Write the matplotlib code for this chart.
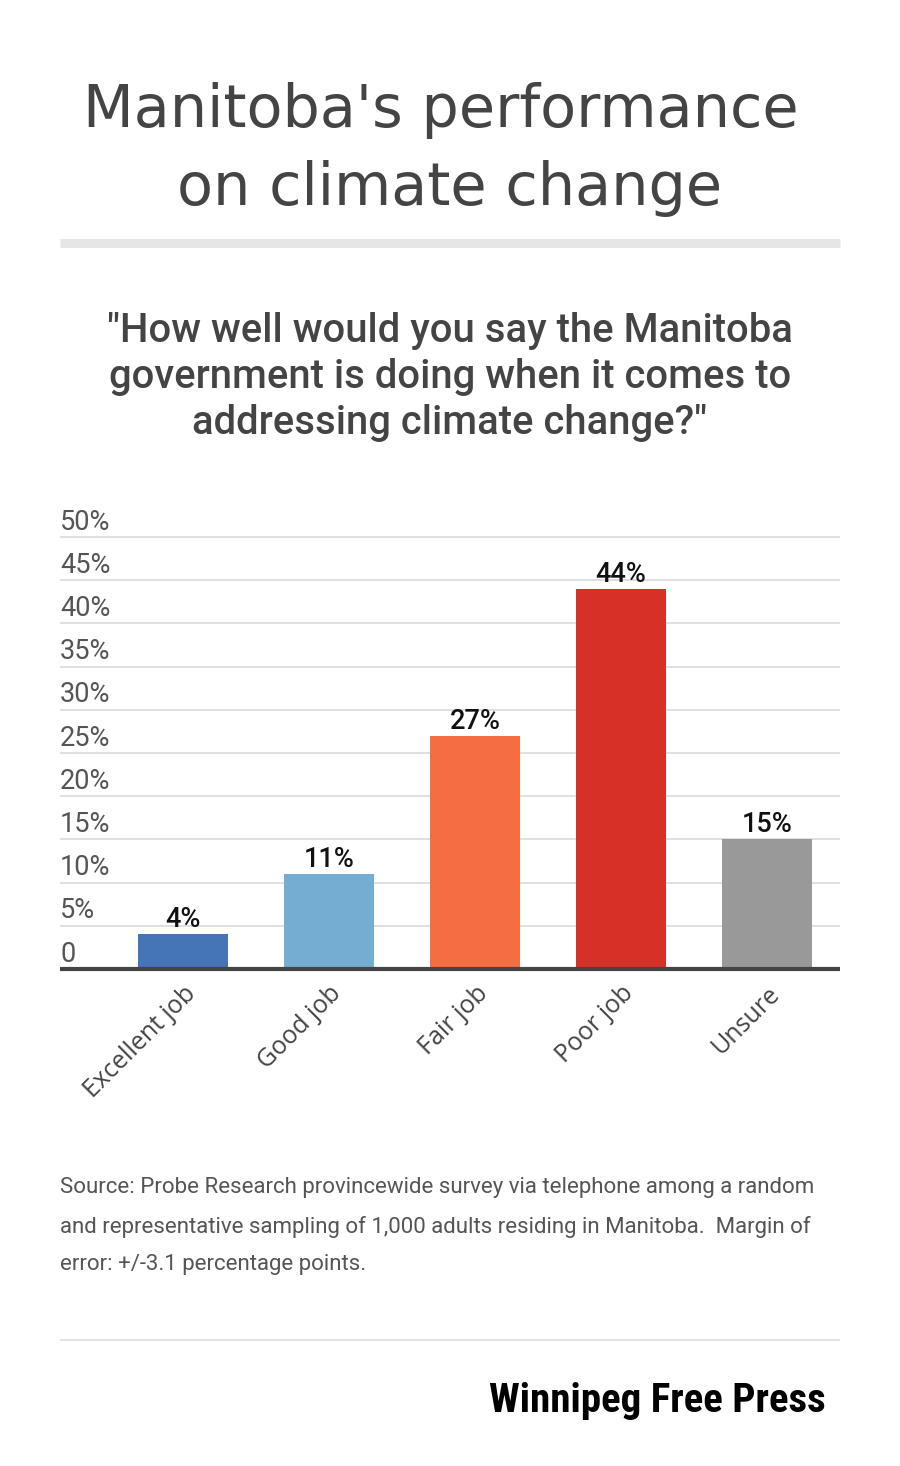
import matplotlib.pyplot as plt
from matplotlib.lines import Line2D
import matplotlib.transforms as mtransforms

# survey results (percent)
categories = ['Excellent job', 'Good job', 'Fair job', 'Poor job', 'Unsure']
values = [4, 11, 27, 44, 15]
bar_colors = ['#4575b4', '#74add1', '#f46d43', '#d73027', '#999999']
y_ticks = [0, 5, 10, 15, 20, 25, 30, 35, 40, 45, 50]
y_tick_labels = ['0', '5%', '10%', '15%', '20%', '25%', '30%', '35%', '40%', '45%', '50%']

W, H = 900, 1466
fig = plt.figure(figsize=(W / 100, H / 100), dpi=100)
fig.patch.set_facecolor('white')


def fx(px):
    return px / W


def fy(py):
    return 1 - py / H


# title + subtitle
fig.text(0.5, fy(149.5), "Manitoba's performance \non climate change", ha='center', va='center',
         fontsize=42.4, color='#444444', family='DejaVu Sans', linespacing=1.46)
fig.add_artist(Line2D([fx(60), fx(840)], [fy(242.5), fy(242.5)], color='#e6e6e6', lw=6.5,
                      solid_capstyle='butt'))
fig.text(0.5, fy(377), '"How well would you say the Manitoba\ngovernment is doing when it comes to\naddressing climate change?"',
         ha='center', va='center', fontsize=28.8, color='#444444', family='Roboto', weight='medium',
         linespacing=1.28)

# chart area
top_val = 50.6
px_per_unit = (969 - 537) / 50
ax_top = 969 - top_val * px_per_unit
ax = fig.add_axes([fx(60), fy(969), fx(840) - fx(60), (969 - ax_top) / H])
x = list(range(len(categories)))
ax.bar(x, values, width=0.616, color=bar_colors, zorder=3)
ax.set_xlim(-0.842, 4.5)
ax.set_ylim(0, top_val)

for s in ['top', 'right', 'left']:
    ax.spines[s].set_visible(False)
ax.spines['bottom'].set_color('#444444')
ax.spines['bottom'].set_linewidth(3)
ax.spines['bottom'].set_capstyle('butt')
ax.spines['bottom'].set_zorder(4)
ax.set_yticks(y_ticks)
ax.set_yticklabels([])
ax.tick_params(axis='y', length=0)
ax.yaxis.grid(True, color='#dddddd', lw=1.3, zorder=0)
ax.set_axisbelow(True)

trans = mtransforms.blended_transform_factory(ax.transAxes, ax.transData)
for t, lab in zip(y_ticks, y_tick_labels):
    ax.text(0.0, t + 0.85, lab, transform=trans, ha='left', va='baseline', fontsize=19.5,
            color='#555555', family='Roboto')

for xi, v in zip(x, values):
    ax.annotate(f'{v}%', (xi, v), xytext=(0, 5), textcoords='offset points', ha='center',
                va='baseline', fontsize=19.5, color='#111111', family='Roboto', weight='medium')

ax.set_xticks(x)
ax.set_xticklabels(categories, rotation=45, ha='right', va='center', rotation_mode='anchor',
                   fontsize=18, color='#444444', family='Open Sans')
ax.tick_params(axis='x', length=0, pad=15)
for lab in ax.get_xticklabels():
    lab.set_transform(lab.get_transform() + mtransforms.ScaledTranslation(9 / 100, 0, fig.dpi_scale_trans))

# source note
source = ('Source: Probe Research provincewide survey via telephone among a random\n'
          'and representative sampling of 1,000 adults residing in Manitoba.  Margin of\n'
          'error: +/-3.1 percentage points.')
fig.text(fx(60), fy(1226), source, ha='left', va='center', fontsize=16, color='#555555',
         family='Roboto', linespacing=2.01)

fig.add_artist(Line2D([fx(60), fx(840)], [fy(1340), fy(1340)], color='#dddddd', lw=1.2,
                      solid_capstyle='butt'))
fig.text(fx(826), fy(1412), 'Winnipeg Free Press', ha='right', va='baseline', fontsize=29.5,
         weight='black', color='black', family=['Roboto Condensed', 'Roboto'])

fig.savefig('out.png', dpi=100, facecolor='white')
